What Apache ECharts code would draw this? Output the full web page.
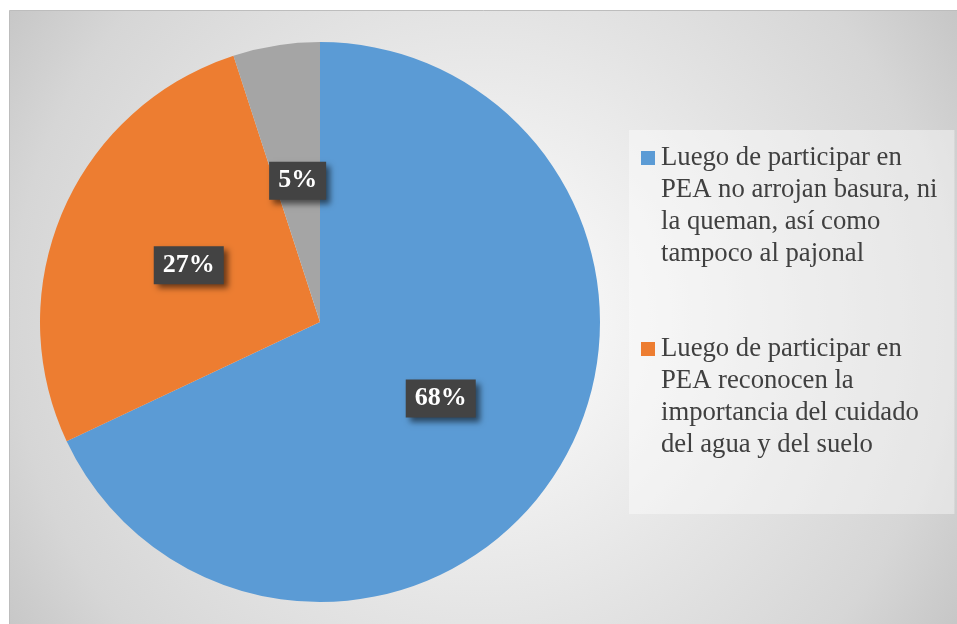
<!DOCTYPE html>
<html>
<head>
<meta charset="utf-8">
<script src="https://cdn.jsdelivr.net/npm/echarts/dist/echarts.min.js"></script>
<style>
  html, body { margin: 0; padding: 0; background: #ffffff; }
  #chart { width: 957px; height: 624px; }
</style>
</head>
<body>
<div id="chart"></div>
<script>
// Slice categories (line breaks as shown in the legend)
const categories = [
  'Luego de participar en\nPEA no arrojan basura, ni\nla queman, así como\ntampoco al pajonal',
  'Luego de participar en\nPEA reconocen la\nimportancia del cuidado\ndel agua y del suelo',
  'Otros'
];
// Share of responses, in percent
const values = [68, 27, 5];
const sliceColors = ['#5B9BD5', '#ED7D31', '#A5A5A5'];
// Entries listed in the legend box
const legendEntries = [categories[0], categories[1]];

const serif = 'Liberation Serif';

const chart = echarts.init(document.getElementById('chart'), null, { renderer: 'canvas' });

const markerRich = {};
sliceColors.forEach((c, i) => {
  markerRich['m' + i] = { width: 14, height: 14, backgroundColor: c };
});
markerRich.sp = { width: 14 };
markerRich.t = {
  fontFamily: serif, fontSize: 26.7, color: '#404040',
  lineHeight: 32, padding: [0, 0, 0, 6]
};

chart.setOption({
  animation: false,
  graphic: [{
    type: 'rect',
    silent: true,
    z: -10,
    shape: { x: 9.5, y: 10.5, width: 960, height: 620 },
    style: {
      stroke: '#bdbdbd',
      lineWidth: 1,
      fill: new echarts.graphic.RadialGradient(480, 320, 570, [
        { offset: 0, color: '#ffffff' },
        { offset: 0.55, color: '#e3e3e3' },
        { offset: 0.82, color: '#d6d6d6' },
        { offset: 1, color: '#c6c6c6' }
      ], true)
    }
  }],
  legend: {
    orient: 'vertical',
    left: 629,
    top: 130,
    data: legendEntries,
    selectedMode: false,
    icon: 'rect',
    itemWidth: 0,
    itemHeight: 0,
    itemGap: 63,
    backgroundColor: 'rgba(255,255,255,0.4)',
    padding: [12, 17, 53, 7],
    formatter: function (name) {
      const idx = categories.indexOf(name);
      return name.split('\n').map(function (line, i) {
        return (i === 0 ? '{m' + idx + '|}' : '{sp|}') + '{t|' + line + '}';
      }).join('\n');
    },
    textStyle: {
      fontFamily: serif, fontSize: 26.7, color: '#404040', lineHeight: 32,
      rich: markerRich
    }
  },
  series: [{
    type: 'pie',
    center: [320, 322],
    radius: 280,
    startAngle: 90,
    clockwise: true,
    data: categories.map((name, i) => ({
      name: name,
      value: values[i],
      itemStyle: { color: sliceColors[i] }
    })),
    label: {
      show: true,
      position: 'inside',
      formatter: p => Math.round(p.percent) + '%',
      fontFamily: serif,
      fontWeight: 'bold',
      fontSize: 26,
      color: '#ffffff',
      backgroundColor: '#434343',
      padding: [6, 9, 6, 9],
      shadowColor: 'rgba(0,0,0,0.55)',
      shadowBlur: 6,
      shadowOffsetX: 4,
      shadowOffsetY: 4
    },
    labelLine: { show: false },
    emphasis: { disabled: true }
  }]
});
</script>
</body>
</html>
